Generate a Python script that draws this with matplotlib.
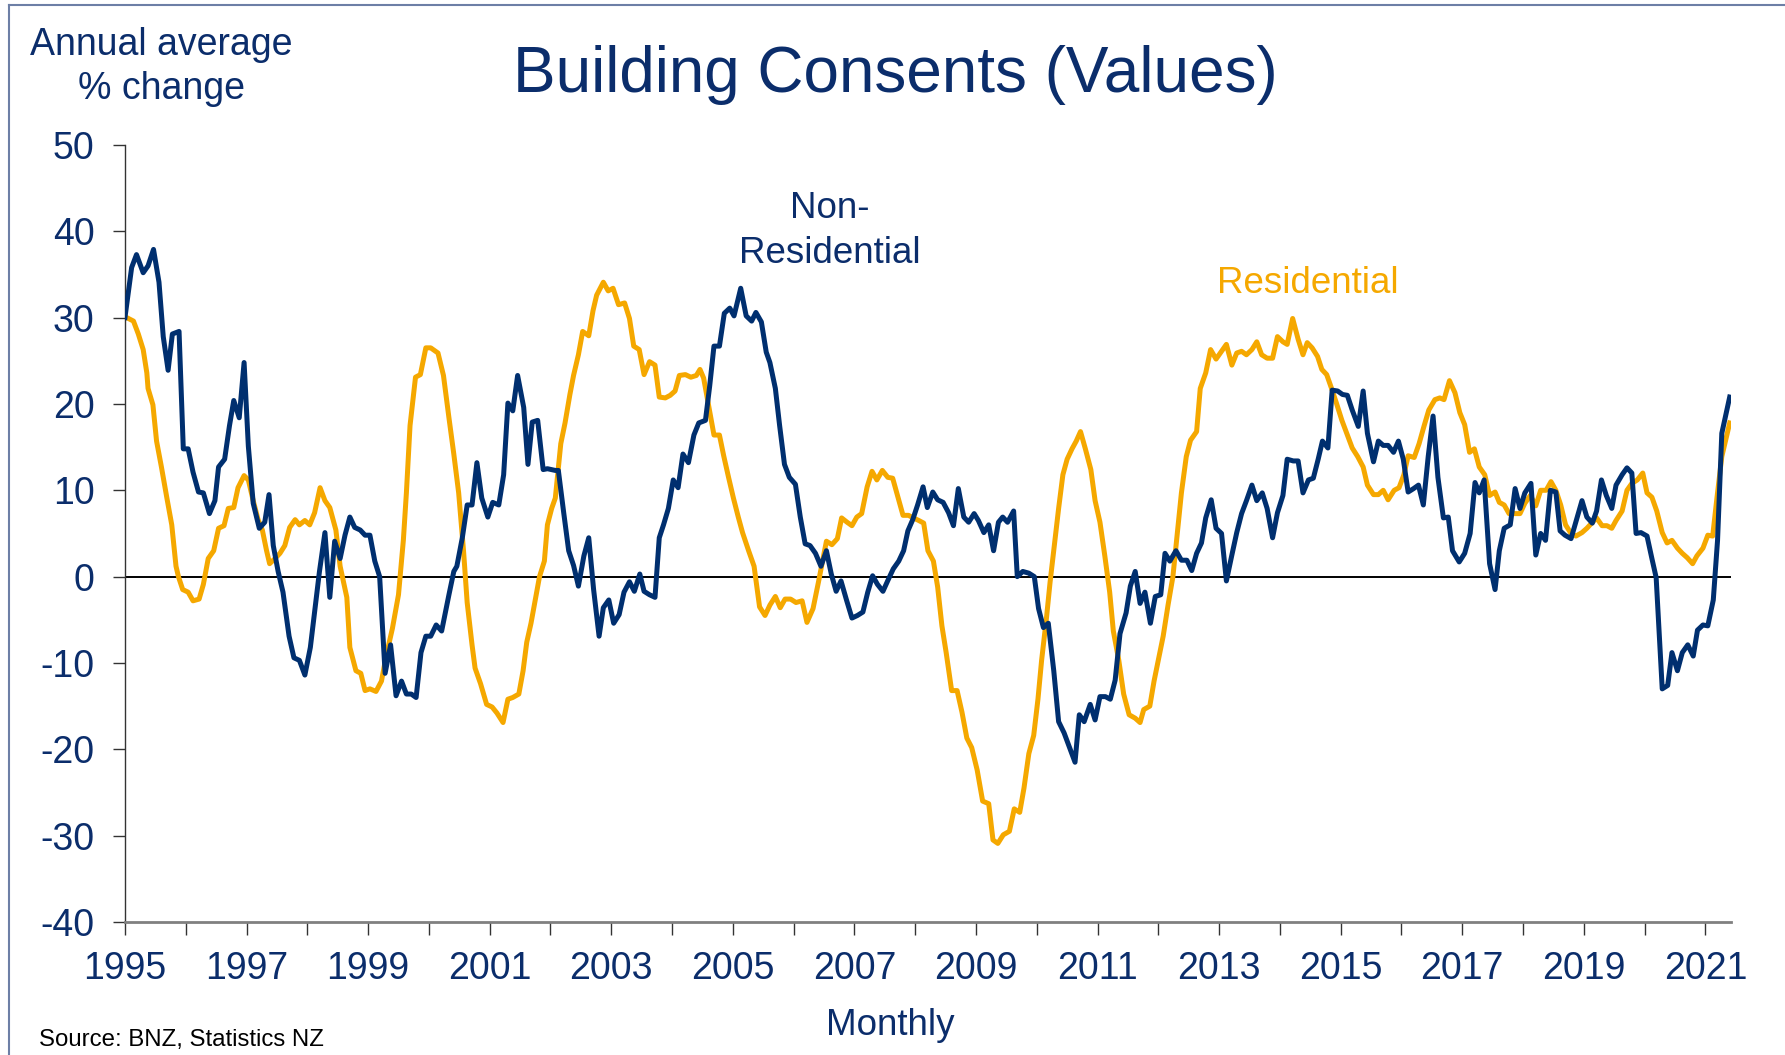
import matplotlib
matplotlib.use("Agg")
import matplotlib.pyplot as plt
from matplotlib.lines import Line2D
from matplotlib.ticker import FixedLocator, FuncFormatter

plt.rcParams['font.family'] = ['Liberation Sans', 'DejaVu Sans']
plt.rcParams['axes.unicode_minus'] = False

# Kolory
navy = '#0b2d6b'
line_blue = '#002f6f'
line_orange = '#f5a800'

# Dane: rok (dziesietnie) i roczna srednia zmiana %
nonres_year = [1995.00, 1995.11, 1995.19, 1995.30, 1995.38, 1995.47, 1995.56, 1995.63, 1995.71, 1995.78,
               1995.89, 1995.96, 1996.04, 1996.12, 1996.21, 1996.29, 1996.39, 1996.48, 1996.54, 1996.64,
               1996.72, 1996.79, 1996.88, 1996.96, 1997.03, 1997.11, 1997.21, 1997.30, 1997.37, 1997.44,
               1997.52, 1997.60, 1997.70, 1997.78, 1997.87, 1997.96, 1998.05, 1998.20, 1998.29, 1998.37,
               1998.45, 1998.54, 1998.62, 1998.70, 1998.78, 1998.87, 1998.95, 1999.03, 1999.11, 1999.19,
               1999.28, 1999.37, 1999.46, 1999.55, 1999.63, 1999.71, 1999.79, 1999.87, 1999.95, 2000.03,
               2000.12, 2000.21, 2000.33, 2000.41, 2000.46, 2000.55, 2000.63, 2000.71, 2000.79, 2000.87,
               2000.97, 2001.05, 2001.15, 2001.23, 2001.30, 2001.38, 2001.46, 2001.56, 2001.63, 2001.70,
               2001.79, 2001.88, 2001.95, 2002.08, 2002.13, 2002.22, 2002.30, 2002.38, 2002.46, 2002.55,
               2002.63, 2002.71, 2002.80, 2002.87, 2002.96, 2003.04, 2003.13, 2003.21, 2003.30, 2003.38,
               2003.47, 2003.54, 2003.63, 2003.72, 2003.79, 2003.86, 2003.94, 2004.02, 2004.10, 2004.18,
               2004.27, 2004.36, 2004.44, 2004.55, 2004.62, 2004.69, 2004.78, 2004.86, 2004.95, 2005.02,
               2005.13, 2005.22, 2005.31, 2005.38, 2005.47, 2005.55, 2005.61, 2005.70, 2005.77, 2005.85,
               2005.93, 2006.03, 2006.11, 2006.19, 2006.27, 2006.36, 2006.45, 2006.54, 2006.62, 2006.70,
               2006.78, 2006.87, 2006.96, 2007.05, 2007.14, 2007.22, 2007.30, 2007.38, 2007.47, 2007.56,
               2007.64, 2007.73, 2007.81, 2007.88, 2007.96, 2008.04, 2008.13, 2008.20, 2008.29, 2008.37,
               2008.46, 2008.55, 2008.63, 2008.71, 2008.80, 2008.88, 2008.97, 2009.04, 2009.13, 2009.21,
               2009.29, 2009.37, 2009.44, 2009.52, 2009.62, 2009.68, 2009.77, 2009.87, 2009.96, 2010.03,
               2010.11, 2010.19, 2010.28, 2010.36, 2010.45, 2010.53, 2010.63, 2010.70, 2010.78, 2010.88,
               2010.96, 2011.04, 2011.13, 2011.21, 2011.29, 2011.37, 2011.47, 2011.54, 2011.62, 2011.70,
               2011.78, 2011.87, 2011.95, 2012.04, 2012.11, 2012.19, 2012.29, 2012.38, 2012.47, 2012.55,
               2012.63, 2012.71, 2012.78, 2012.87, 2012.95, 2013.04, 2013.12, 2013.21, 2013.29, 2013.37,
               2013.45, 2013.54, 2013.62, 2013.71, 2013.79, 2013.88, 2013.96, 2014.05, 2014.12, 2014.22,
               2014.30, 2014.38, 2014.47, 2014.55, 2014.63, 2014.70, 2014.79, 2014.86, 2014.95, 2015.03,
               2015.11, 2015.19, 2015.29, 2015.37, 2015.44, 2015.54, 2015.62, 2015.70, 2015.78, 2015.87,
               2015.95, 2016.03, 2016.11, 2016.20, 2016.28, 2016.36, 2016.44, 2016.52, 2016.60, 2016.69,
               2016.77, 2016.84, 2016.95, 2017.04, 2017.13, 2017.21, 2017.28, 2017.36, 2017.45, 2017.54,
               2017.61, 2017.69, 2017.79, 2017.87, 2017.95, 2018.03, 2018.13, 2018.21, 2018.29, 2018.37,
               2018.45, 2018.54, 2018.61, 2018.69, 2018.79, 2018.88, 2018.97, 2019.05, 2019.14, 2019.21,
               2019.29, 2019.37, 2019.46, 2019.53, 2019.63, 2019.71, 2019.79, 2019.86, 2019.94, 2020.04,
               2020.12, 2020.19, 2020.29, 2020.38, 2020.45, 2020.54, 2020.62, 2020.71, 2020.80, 2020.87,
               2020.96, 2021.04, 2021.13, 2021.20, 2021.27, 2021.40]
nonres_pct = [30.0, 35.8, 37.3, 35.2, 36.0, 37.9, 34.1, 27.8, 23.9, 28.1,
              28.4, 14.8, 14.8, 12.1, 9.8, 9.7, 7.3, 8.8, 12.7, 13.6,
              17.5, 20.4, 18.4, 24.8, 15.1, 8.5, 5.6, 6.3, 9.5, 3.6,
              0.6, -1.8, -6.9, -9.4, -9.7, -11.4, -8.2, 0.6, 5.1, -2.4,
              4.1, 2.1, 4.8, 6.9, 5.7, 5.4, 4.8, 4.8, 1.8, 0.0,
              -11.2, -7.9, -13.8, -12.1, -13.6, -13.6, -14.0, -8.8, -6.9, -6.9,
              -5.6, -6.3, -2.1, 0.6, 1.2, 4.5, 8.3, 8.3, 13.2, 9.1,
              6.9, 8.6, 8.3, 11.8, 20.1, 19.2, 23.3, 19.6, 13.0, 17.9,
              18.1, 12.4, 12.5, 12.3, 12.3, 7.3, 3.0, 1.3, -1.1, 2.4,
              4.5, -1.5, -6.9, -3.6, -2.7, -5.4, -4.4, -1.8, -0.6, -1.7,
              0.3, -1.7, -2.1, -2.4, 4.5, 6.0, 7.9, 11.2, 10.3, 14.2,
              13.2, 16.4, 17.8, 18.1, 22.1, 26.7, 26.7, 30.5, 31.1, 30.2,
              33.4, 30.2, 29.6, 30.6, 29.5, 26.0, 24.8, 21.8, 17.5, 13.0,
              11.5, 10.7, 6.9, 3.8, 3.6, 2.7, 1.2, 3.0, 0.3, -1.7,
              -0.5, -2.7, -4.8, -4.5, -4.1, -1.8, 0.1, -0.9, -1.7, -0.3,
              0.9, 1.8, 3.0, 5.3, 6.6, 8.3, 10.4, 8.0, 9.8, 8.9,
              8.6, 7.4, 5.9, 10.2, 6.9, 6.3, 7.3, 6.5, 5.1, 6.0,
              3.0, 6.3, 6.9, 6.3, 7.6, 0.0, 0.6, 0.4, 0.0, -3.7,
              -5.9, -5.4, -10.9, -16.8, -18.1, -19.6, -21.5, -16.0, -16.8, -14.8,
              -16.6, -13.9, -13.9, -14.2, -12.0, -6.6, -4.2, -1.1, 0.6, -3.1,
              -1.8, -5.4, -2.3, -2.1, 2.7, 1.8, 3.0, 1.9, 1.9, 0.7,
              2.7, 3.9, 6.8, 8.9, 5.6, 5.0, -0.5, 2.5, 5.1, 7.3,
              8.8, 10.6, 8.8, 9.7, 7.9, 4.5, 7.4, 9.4, 13.6, 13.4,
              13.4, 9.7, 11.2, 11.4, 13.6, 15.7, 14.9, 21.6, 21.5, 21.1,
              21.0, 19.3, 17.4, 21.5, 16.6, 13.3, 15.7, 15.2, 15.2, 14.4,
              15.7, 13.6, 9.8, 10.2, 10.6, 8.3, 13.9, 18.6, 11.5, 6.8,
              6.9, 3.0, 1.7, 2.7, 5.0, 10.9, 9.7, 11.2, 1.5, -1.5,
              3.0, 5.6, 6.0, 10.2, 7.9, 9.7, 10.8, 2.5, 5.0, 4.2,
              10.0, 9.8, 5.3, 4.8, 4.4, 6.6, 8.8, 6.9, 6.2, 7.6,
              11.2, 9.4, 7.9, 10.6, 11.8, 12.6, 12.0, 5.0, 5.1, 4.7,
              2.1, -0.1, -13.0, -12.6, -8.8, -10.9, -8.8, -7.9, -9.2, -6.2,
              -5.6, -5.7, -2.7, 4.2, 16.6, 20.8]

res_year = [1995.03, 1995.14, 1995.22, 1995.30, 1995.36, 1995.38, 1995.46, 1995.52, 1995.60, 1995.69,
            1995.77, 1995.84, 1995.88, 1995.95, 1996.04, 1996.12, 1996.22, 1996.29, 1996.37, 1996.46,
            1996.54, 1996.63, 1996.70, 1996.79, 1996.86, 1996.96, 1997.03, 1997.11, 1997.19, 1997.26,
            1997.33, 1997.38, 1997.47, 1997.55, 1997.63, 1997.71, 1997.80, 1997.87, 1997.96, 1998.04,
            1998.12, 1998.21, 1998.29, 1998.37, 1998.47, 1998.54, 1998.65, 1998.70, 1998.80, 1998.88,
            1998.95, 1999.03, 1999.13, 1999.22, 1999.30, 1999.40, 1999.50, 1999.58, 1999.63, 1999.69,
            1999.78, 1999.86, 1999.95, 2000.03, 2000.15, 2000.24, 2000.33, 2000.41, 2000.49, 2000.57,
            2000.63, 2000.71, 2000.76, 2000.85, 2000.95, 2001.04, 2001.12, 2001.22, 2001.30, 2001.38,
            2001.48, 2001.55, 2001.61, 2001.68, 2001.75, 2001.82, 2001.90, 2001.95, 2002.02, 2002.08,
            2002.17, 2002.24, 2002.32, 2002.38, 2002.46, 2002.53, 2002.63, 2002.70, 2002.76, 2002.87,
            2002.95, 2003.03, 2003.12, 2003.22, 2003.30, 2003.37, 2003.46, 2003.54, 2003.63, 2003.72,
            2003.79, 2003.89, 2003.97, 2004.05, 2004.12, 2004.22, 2004.31, 2004.40, 2004.46, 2004.52,
            2004.60, 2004.69, 2004.78, 2004.85, 2004.93, 2005.01, 2005.09, 2005.16, 2005.26, 2005.35,
            2005.44, 2005.53, 2005.61, 2005.70, 2005.78, 2005.86, 2005.95, 2006.04, 2006.14, 2006.22,
            2006.32, 2006.41, 2006.48, 2006.54, 2006.63, 2006.72, 2006.79, 2006.88, 2006.96, 2007.04,
            2007.12, 2007.21, 2007.29, 2007.37, 2007.46, 2007.55, 2007.63, 2007.72, 2007.80, 2007.89,
            2007.97, 2008.06, 2008.14, 2008.21, 2008.30, 2008.37, 2008.44, 2008.51, 2008.60, 2008.69,
            2008.77, 2008.85, 2008.93, 2009.02, 2009.11, 2009.21, 2009.28, 2009.36, 2009.45, 2009.55,
            2009.63, 2009.72, 2009.79, 2009.87, 2009.95, 2010.02, 2010.08, 2010.16, 2010.22, 2010.29,
            2010.36, 2010.43, 2010.50, 2010.58, 2010.65, 2010.72, 2010.80, 2010.89, 2010.96, 2011.04,
            2011.12, 2011.20, 2011.26, 2011.35, 2011.43, 2011.52, 2011.62, 2011.70, 2011.76, 2011.86,
            2011.93, 2012.00, 2012.08, 2012.16, 2012.24, 2012.31, 2012.38, 2012.46, 2012.53, 2012.63,
            2012.69, 2012.78, 2012.86, 2012.95, 2013.04, 2013.12, 2013.21, 2013.29, 2013.37, 2013.45,
            2013.54, 2013.62, 2013.70, 2013.79, 2013.88, 2013.96, 2014.05, 2014.12, 2014.21, 2014.30,
            2014.38, 2014.45, 2014.53, 2014.62, 2014.69, 2014.77, 2014.85, 2014.93, 2015.02, 2015.10,
            2015.19, 2015.28, 2015.37, 2015.44, 2015.54, 2015.62, 2015.70, 2015.78, 2015.88, 2015.96,
            2016.04, 2016.11, 2016.21, 2016.29, 2016.37, 2016.45, 2016.55, 2016.63, 2016.70, 2016.79,
            2016.88, 2016.96, 2017.04, 2017.12, 2017.20, 2017.28, 2017.37, 2017.45, 2017.54, 2017.61,
            2017.69, 2017.77, 2017.87, 2017.95, 2018.03, 2018.12, 2018.21, 2018.29, 2018.38, 2018.46,
            2018.54, 2018.62, 2018.70, 2018.79, 2018.87, 2018.97, 2019.05, 2019.13, 2019.21, 2019.30,
            2019.38, 2019.46, 2019.53, 2019.63, 2019.71, 2019.79, 2019.88, 2019.97, 2020.04, 2020.12,
            2020.20, 2020.29, 2020.37, 2020.45, 2020.54, 2020.62, 2020.70, 2020.79, 2020.86, 2020.96,
            2021.04, 2021.12, 2021.19, 2021.27, 2021.40]
res_pct = [30.0, 29.6, 28.1, 26.3, 23.6, 21.8, 19.9, 15.7, 12.7, 9.1,
           6.0, 1.2, 0.0, -1.5, -1.8, -2.8, -2.6, -0.9, 2.1, 3.0,
           5.6, 5.9, 7.9, 8.0, 10.3, 11.7, 11.2, 8.8, 6.6, 5.4,
           3.0, 1.5, 2.1, 2.7, 3.6, 5.7, 6.6, 6.0, 6.5, 6.0,
           7.4, 10.3, 8.8, 8.0, 5.4, 1.2, -2.4, -8.2, -10.9, -11.2,
           -13.2, -13.0, -13.3, -12.1, -9.1, -6.0, -2.1, 4.2, 9.7, 17.5,
           23.1, 23.4, 26.5, 26.5, 25.9, 23.3, 18.4, 14.2, 9.7, 3.0,
           -3.0, -7.9, -10.6, -12.4, -14.8, -15.1, -15.8, -16.9, -14.2, -14.0,
           -13.6, -10.9, -7.6, -5.4, -2.7, 0.0, 1.8, 6.0, 7.9, 9.1,
           15.4, 17.8, 21.1, 23.3, 25.7, 28.4, 27.9, 30.8, 32.6, 34.1,
           33.1, 33.4, 31.5, 31.7, 29.9, 26.7, 26.3, 23.4, 24.9, 24.5,
           20.8, 20.7, 21.0, 21.5, 23.3, 23.4, 23.1, 23.3, 24.0, 23.0,
           19.9, 16.4, 16.4, 14.0, 11.5, 9.1, 6.9, 5.1, 3.0, 1.2,
           -3.5, -4.5, -3.3, -2.3, -3.6, -2.6, -2.6, -3.0, -2.8, -5.3,
           -3.7, -0.6, 1.9, 4.1, 3.7, 4.4, 6.8, 6.3, 5.9, 6.9,
           7.3, 10.4, 12.2, 11.2, 12.3, 11.5, 11.4, 9.1, 7.1, 7.1,
           6.8, 6.5, 6.2, 3.0, 1.8, -1.2, -5.7, -8.8, -13.2, -13.2,
           -15.7, -18.7, -19.8, -22.4, -26.0, -26.3, -30.5, -30.9, -29.9, -29.5,
           -26.9, -27.3, -24.5, -20.5, -18.4, -14.2, -9.7, -4.8, -0.6, 3.6,
           7.9, 11.8, 13.6, 14.8, 15.7, 16.8, 14.8, 12.4, 8.8, 6.3,
           2.4, -1.8, -6.3, -9.7, -13.6, -16.0, -16.4, -16.9, -15.4, -15.0,
           -12.1, -9.7, -6.9, -3.3, 0.0, 4.8, 9.7, 13.9, 15.8, 16.8,
           21.8, 23.6, 26.3, 25.2, 26.1, 26.9, 24.5, 25.9, 26.1, 25.7,
           26.3, 27.2, 25.7, 25.3, 25.3, 27.8, 27.2, 26.9, 29.9, 27.5,
           25.7, 27.1, 26.5, 25.5, 24.0, 23.4, 21.8, 20.1, 18.1, 16.6,
           14.9, 13.9, 12.7, 10.6, 9.5, 9.5, 10.0, 8.9, 10.0, 10.3,
           11.8, 14.0, 13.8, 15.4, 17.4, 19.3, 20.5, 20.7, 20.5, 22.7,
           21.3, 19.0, 17.6, 14.4, 14.8, 12.7, 11.8, 9.4, 9.8, 8.6,
           8.3, 7.3, 7.3, 7.3, 8.5, 9.4, 8.2, 10.0, 10.0, 11.0,
           10.0, 8.3, 6.0, 5.0, 4.7, 5.1, 5.6, 6.2, 6.8, 5.9,
           5.9, 5.6, 6.5, 7.6, 10.0, 10.8, 11.2, 12.0, 9.7, 9.2,
           7.6, 5.1, 3.9, 4.2, 3.3, 2.7, 2.2, 1.5, 2.4, 3.3,
           4.8, 4.7, 9.1, 13.9, 17.8]

year_ticks = list(range(1995, 2022))
y_ticks = [-40, -30, -20, -10, 0, 10, 20, 30, 40, 50]

fig = plt.figure(figsize=(17.85, 10.55), dpi=100)
ax = fig.add_axes([0.070, 0.1261, 0.8997, 0.7365])

ax.plot(res_year, res_pct, color=line_orange, lw=3.6, zorder=3, solid_joinstyle='round')
ax.plot(nonres_year, nonres_pct, color=line_blue, lw=3.6, zorder=4, solid_joinstyle='round')
ax.axhline(0, color='black', lw=1.4, zorder=2)

ax.set_xlim(1995, 2021.42)
ax.set_ylim(-40, 50)

# Osie i ticki
for s in ['top', 'right']:
    ax.spines[s].set_visible(False)
ax.spines['left'].set_color('#333333')
ax.spines['left'].set_linewidth(1.0)
ax.spines['bottom'].set_color('#808080')
ax.spines['bottom'].set_linewidth(2.0)

ax.xaxis.set_major_locator(FixedLocator(year_ticks))
ax.xaxis.set_major_formatter(FuncFormatter(lambda v, p: str(int(round(v))) if int(round(v)) % 2 == 1 else ''))
ax.set_yticks(y_ticks)
ax.tick_params(axis='x', length=9, width=1, color='#333333', pad=12, labelsize=27, labelcolor=navy)
ax.tick_params(axis='y', length=9, width=1, color='#333333', pad=13, labelsize=27, labelcolor=navy)

# Teksty
fig.text(0.5015, 0.929, 'Building Consents (Values)', ha='center', va='center', fontsize=46, color=navy)
fig.text(0.0905, 0.957, 'Annual average', ha='center', va='center', fontsize=27, color=navy)
fig.text(0.0905, 0.916, '% change', ha='center', va='center', fontsize=27, color=navy)
ax.text(2006.6, 42.6, 'Non-', ha='center', va='center', fontsize=26.5, color=navy)
ax.text(2006.6, 37.4, 'Residential', ha='center', va='center', fontsize=26.5, color=navy)
ax.text(2014.46, 34.0, 'Residential', ha='center', va='center', fontsize=26.5, color=line_orange)
fig.text(0.4985, 0.028, 'Monthly', ha='center', va='center', fontsize=26.5, color=navy)
fig.text(0.022, 0.014, 'Source: BNZ, Statistics NZ', ha='left', va='center', fontsize=17.3, color='black')

# Ramka
fig.add_artist(Line2D([0.005, 1.0], [0.9955, 0.9955], color='#6d7fa6', lw=1.5))
fig.add_artist(Line2D([0.005, 0.005], [0.0, 0.9955], color='#6d7fa6', lw=1.5))

fig.savefig('out.png', dpi=100)
